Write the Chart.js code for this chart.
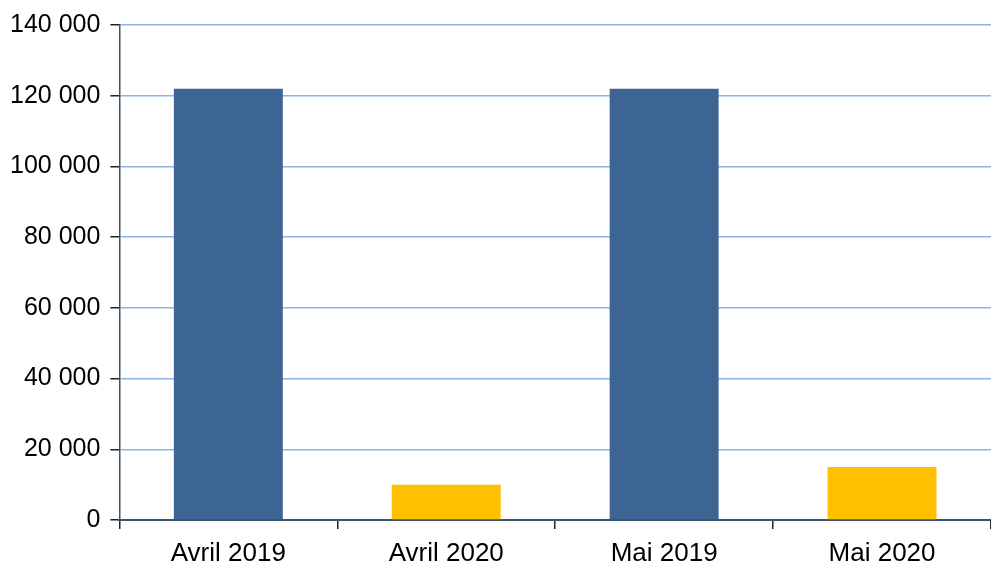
<!DOCTYPE html>
<html>
<head>
<meta charset="utf-8">
<script src="https://cdn.jsdelivr.net/npm/chart.js@4"></script>
<style>
    html, body { margin: 0; padding: 0; background: #fff; }
    #wrap { width: 991px; height: 567px; }
</style>
</head>
<body>
<div id="wrap"><canvas id="chart"></canvas></div>
<script>
const categories = ['Avril 2019', 'Avril 2020', 'Mai 2019', 'Mai 2020'];
const values = [122000, 10000, 122000, 15000];
const barColors = ['#3C6593', '#FFC000', '#3C6593', '#FFC000'];
const yTicks = [0, 20000, 40000, 60000, 80000, 100000, 120000, 140000];

function formatNumber(v) {
    return String(v).replace(/\B(?=(\d{3})+(?!\d))/g, ' ');
}

const ctx = document.getElementById('chart').getContext('2d');
new Chart(ctx, {
    type: 'bar',
    data: {
        labels: categories,
        datasets: [{
            data: values,
            backgroundColor: barColors,
            borderWidth: 0,
            barPercentage: 0.5,
            categoryPercentage: 1
        }]
    },
    options: {
        responsive: true,
        maintainAspectRatio: false,
        animation: false,
        plugins: {
            legend: { display: false },
            tooltip: { enabled: false }
        },
        layout: {
            padding: { left: 0, right: 0, top: 7, bottom: -12 }
        },
        scales: {
            x: {
                grid: {
                    offset: true,
                    drawOnChartArea: false,
                    tickLength: 9,
                    tickColor: '#222',
                    lineWidth: 1.5
                },
                border: { color: '#3E5366', width: 2 },
                ticks: {
                    color: '#000',
                    padding: 12,
                    font: { family: 'Liberation Sans', size: 26, lineHeight: 1 }
                }
            },
            y: {
                min: 0,
                max: 140000,
                afterBuildTicks: axis => {
                    axis.ticks = yTicks.map(v => ({ value: v }));
                },
                grid: {
                    color: '#8DB4E2',
                    lineWidth: 1.5,
                    tickLength: 9,
                    tickColor: '#222'
                },
                border: { color: '#3E5366', width: 1.5 },
                ticks: {
                    color: '#000',
                    padding: 10,
                    font: { family: 'Liberation Sans', size: 25 },
                    callback: v => formatNumber(v)
                }
            }
        }
    }
});
</script>
</body>
</html>
